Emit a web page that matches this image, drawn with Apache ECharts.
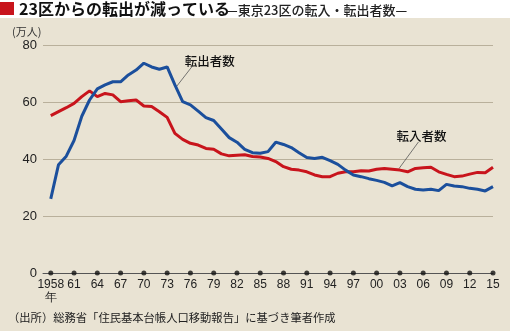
<!DOCTYPE html>
<html><head><meta charset="utf-8">
<script src="https://cdn.jsdelivr.net/npm/echarts@6/dist/echarts.min.js"></script>
<style>html,body{margin:0;padding:0;background:#e9e3d3}#c{width:510px;height:331px}</style>
</head><body><div id="c"></div>
<script>
const years = [1958,1959,1960,1961,1962,1963,1964,1965,1966,1967,1968,1969,1970,1971,1972,1973,1974,1975,1976,1977,1978,1979,1980,1981,1982,1983,1984,1985,1986,1987,1988,1989,1990,1991,1992,1993,1994,1995,1996,1997,1998,1999,2000,2001,2002,2003,2004,2005,2006,2007,2008,2009,2010,2011,2012,2013,2014,2015];
const outflow = [26,38,41,46.5,55,60.7,64.6,66,67.1,67.1,69.5,71.2,73.6,72.3,71.5,72.3,66,60.1,59,56.8,54.5,53.5,50.5,47.5,45.9,43.4,42.2,42,42.6,45.9,45.1,44,42.2,40.5,40.2,40.6,39.4,38.1,36.1,34.4,33.8,33.1,32.5,31.8,30.6,31.7,30.3,29.4,29.1,29.4,28.9,31.1,30.5,30.3,29.7,29.4,28.8,30.3];
const inflow = [55.2,56.6,58,59.5,61.9,63.9,61.9,63,62.5,60.1,60.4,60.7,58.6,58.4,56.6,54.6,49,46.9,45.5,44.9,43.7,43.4,41.8,41.1,41.3,41.5,40.9,40.7,40.2,39.1,37.3,36.4,36.1,35.5,34.4,33.8,33.8,35,35.5,35.5,35.9,35.8,36.4,36.7,36.4,36.1,35.5,36.7,36.9,37.1,35.5,34.6,33.8,34,34.7,35.3,35.2,37.1];
const tickYears = [1958,1961,1964,1967,1970,1973,1976,1979,1982,1985,1988,1991,1994,1997,2000,2003,2006,2009,2012,2015];
const tickLabels = ['1958\n年','61','64','67','70','73','76','79','82','85','88','91','94','97','00','03','06','09','12','15'];
const seriesNames = ['転入者数','転出者数'];

const chart = echarts.init(document.getElementById('c'), null, {renderer:'canvas'});
const numFont = '"Liberation Sans", Arial, sans-serif';
const jpFont = '"Noto Sans CJK JP", sans-serif';
chart.setOption({
  backgroundColor:'#e9e3d3',
  animation:false,
  grid:{left:43,right:17,top:45,bottom:58,containLabel:false},
  xAxis:{type:'value',min:1957,max:2015,interval:1,
    axisLine:{show:true,lineStyle:{color:'#555',width:1}},
    axisTick:{show:false},splitLine:{show:false},
    axisLabel:{color:'#222',fontSize:12,fontFamily:numFont,margin:5,lineHeight:13,showMinLabel:true,showMaxLabel:true,hideOverlap:false,
      formatter:function(v){const i=tickYears.indexOf(v);return i>=0?tickLabels[i]:'';}}},
  yAxis:{type:'value',min:0,max:80,interval:20,
    axisLine:{show:false},axisTick:{show:false},
    splitLine:{lineStyle:{color:'#b9b09b',width:1}},
    axisLabel:{color:'#222',fontSize:13,fontFamily:numFont,margin:6}},
  series:[
    {name:seriesNames[0],type:'line',data:years.map((y,i)=>[y,inflow[i]]),showSymbol:false,symbol:'none',
      lineStyle:{color:'#c8141c',width:3},z:3},
    {name:seriesNames[1],type:'line',data:years.map((y,i)=>[y,outflow[i]]),showSymbol:false,symbol:'none',
      lineStyle:{color:'#1b4f9c',width:3},z:4},
    {type:'scatter',data:tickYears.map(y=>[y,0]),symbolSize:5,itemStyle:{color:'#111'},z:5,silent:true}
  ]
});

// annotations placed in data coordinates
const ann = [
  {text:seriesNames[1], label:[1978.5,74.2], from:[1976.2,72.4], to:[1974.2,65.4]},
  {text:seriesNames[0], label:[2005.8,48.0], from:[2005.4,46.0], to:[2002.9,36.7]}
];
const g = [
  {type:'rect',shape:{x:0,y:0,width:510,height:18},style:{fill:'#ffffff'},silent:true},
  {type:'rect',shape:{x:0,y:2,width:14,height:13},style:{fill:'#c8141c'},silent:true},
  {type:'text',x:19,y:9,style:{text:'23区からの転出が減っている',font:'bold 16px '+jpFont,fill:'#111',textVerticalAlign:'middle'}},
  {type:'text',x:226,y:10,style:{text:'—東京23区の転入・転出者数—',font:'500 13px '+jpFont,fill:'#222',textVerticalAlign:'middle'}},
  {type:'text',x:12,y:32,style:{text:'(万人)',font:'11px '+jpFont,fill:'#333',textVerticalAlign:'middle'}},
  {type:'text',x:8,y:318,style:{text:'（出所）総務省「住民基本台帳人口移動報告」に基づき筆者作成',font:'11.3px '+jpFont,fill:'#222',textVerticalAlign:'middle'}}
];
ann.forEach(a=>{
  const p=chart.convertToPixel({gridIndex:0},a.label);
  const f=chart.convertToPixel({gridIndex:0},a.from);
  const t=chart.convertToPixel({gridIndex:0},a.to);
  g.push({type:'line',shape:{x1:f[0],y1:f[1],x2:t[0],y2:t[1]},style:{stroke:'#555',lineWidth:0.8},silent:true});
  g.push({type:'text',x:p[0],y:p[1],style:{text:a.text,font:'500 12.5px '+jpFont,fill:'#111',textAlign:'center',textVerticalAlign:'middle'}});
});
chart.setOption({graphic:g});
</script></body></html>
